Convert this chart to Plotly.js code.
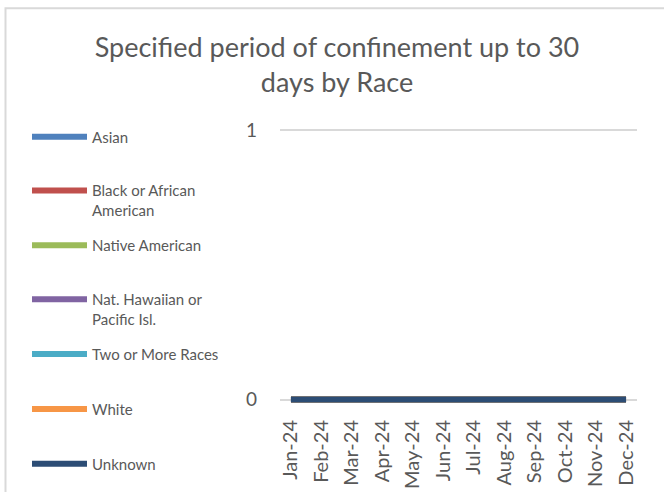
<!DOCTYPE html>
<html>
<head>
<meta charset="utf-8">
<script src="https://cdn.plot.ly/plotly-3.0.1.min.js"></script>
<style>html,body{margin:0;padding:0;background:#fff;}#chart{width:664px;height:492px;}</style>
</head>
<body>
<div id="chart"></div>
<script>
const months = ["Jan-24","Feb-24","Mar-24","Apr-24","May-24","Jun-24","Jul-24","Aug-24","Sep-24","Oct-24","Nov-24","Dec-24"];
const seriesNames = ["Asian","Black or African<br>American","Native American","Nat. Hawaiian or<br>Pacific Isl.","Two or More Races","White","Unknown"];
const seriesColors = ["#4F81BD","#C0504D","#9BBB59","#8064A2","#4BACC6","#F79646","#2C4D75"];
const asian   = [0,0,0,0,0,0,0,0,0,0,0,0];
const black   = [0,0,0,0,0,0,0,0,0,0,0,0];
const native  = [0,0,0,0,0,0,0,0,0,0,0,0];
const hawaiian= [0,0,0,0,0,0,0,0,0,0,0,0];
const twoMore = [0,0,0,0,0,0,0,0,0,0,0,0];
const white   = [0,0,0,0,0,0,0,0,0,0,0,0];
const unknown = [0,0,0,0,0,0,0,0,0,0,0,0];
const values = [asian, black, native, hawaiian, twoMore, white, unknown];

const FONT = "Lato, 'Open Sans', sans-serif";
const W = 664, H = 492;
const PAD = 0.02, PX = 270; // px per unit on y
const L = 280, R = 637, T = 130 - PAD * PX, B = 400 + PAD * PX;
const legendY = [135, 189, 244, 298, 353, 408, 463];

const traces = values.map((v, i) => ({
  x: months, y: v, type: "scatter", mode: "lines",
  name: seriesNames[i],
  line: {color: seriesColors[i], width: 6},
  legend: i === 0 ? "legend" : "legend" + (i + 1),
  hoverinfo: "x+y+name"
}));

const layout = {
  width: W, height: H,
  margin: {l: L, r: W - R, t: T, b: H - B, pad: 0},
  paper_bgcolor: "#fff", plot_bgcolor: "#fff",
  font: {family: FONT, color: "#595959"},
  title: {
    text: "Specified period of confinement up to 30<br>days by Race",
    font: {family: FONT, size: 27, color: "#595959"},
    x: 337 / W, xanchor: "center", yref: "container", y: 1 - 57 / H, yanchor: "top"
  },
  xaxis: {
    type: "category", tickangle: -90, showgrid: false, zeroline: false,
    showline: false, ticks: "", tickfont: {size: 20, color: "#595959"},
    ticklabelstandoff: 10,
    range: [-0.36, 11.36], fixedrange: true
  },
  yaxis: {
    range: [-PAD, 1 + PAD], tickvals: [0, 1], ticktext: ["0", "1"],
    showgrid: true, gridcolor: "#D9D9D9", gridwidth: 2,
    zeroline: false, showline: false, ticks: "", ticklabelstandoff: 22,
    tickfont: {size: 19, color: "#595959"}, fixedrange: true
  },
  shapes: [{
    type: "rect", xref: "paper", yref: "paper",
    x0: (5.5 - L) / (R - L), x1: (W + 10 - L) / (R - L),
    y0: (B - (H + 10)) / (B - T), y1: (B - 7.5) / (B - T),
    line: {color: "#D9D9D9", width: 2}, layer: "above"
  }],
  showlegend: true
};

legendY.forEach((py, i) => {
  const key = i === 0 ? "legend" : "legend" + (i + 1);
  layout[key] = {
    x: (27 - L) / (R - L), xanchor: "left",
    y: (B - (py - 15)) / (B - T), yanchor: "top",
    valign: "top", bgcolor: "rgba(0,0,0,0)", itemwidth: 55,
    font: {family: FONT, size: 15, color: "#595959"},
    itemclick: false, itemdoubleclick: false
  };
});

Plotly.newPlot("chart", traces, layout, {displayModeBar: false, staticPlot: true});
</script>
</body>
</html>
